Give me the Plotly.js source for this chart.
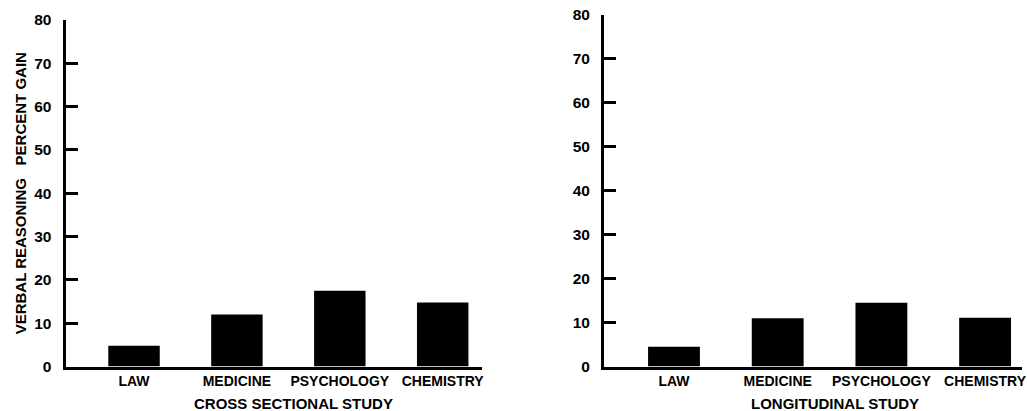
<!DOCTYPE html>
<html>
<head>
<meta charset="utf-8">
<script src="https://cdn.plot.ly/plotly-3.0.1.min.js"></script>
<style>html,body{margin:0;padding:0;background:#fff;}#chart{width:1027px;height:411px;}</style>
</head>
<body>
<div id="chart"></div>
<script>
const categories = ["LAW", "MEDICINE", "PSYCHOLOGY", "CHEMISTRY"];
const crossSectional = [4.8, 12, 17.5, 14.8];
const longitudinal = [4.5, 11, 14.5, 11.1];
const yTicks = [0, 10, 20, 30, 40, 50, 60, 70, 80];
const yTitle = "VERBAL REASONING&nbsp;&nbsp;&nbsp;PERCENT GAIN";
const leftTitle = "CROSS SECTIONAL STUDY";
const rightTitle = "LONGITUDINAL STUDY";

const FONT = "Liberation Sans, Arial, sans-serif";
const W = 1027, H = 411;

const traces = [
  {type: "bar", x: categories, y: crossSectional, xaxis: "x", yaxis: "y",
   width: 0.5, marker: {color: "#000", line: {width: 0}}, hoverinfo: "x+y"},
  {type: "bar", x: categories, y: longitudinal, xaxis: "x2", yaxis: "y2",
   width: 0.5, marker: {color: "#000", line: {width: 0}}, hoverinfo: "x+y"}
];

function xAx(domain, range) {
  return {
    domain: domain, range: range, type: "category",
    showline: true, linewidth: 3, linecolor: "#000",
    ticks: "", showgrid: false, zeroline: false,
    tickfont: {family: FONT, size: 14, color: "#000", weight: "bold"},
    fixedrange: true
  };
}
function yAx(domain, anchor) {
  return {
    domain: domain, range: [0, 80], anchor: anchor,
    tickvals: yTicks, ticktext: yTicks.map(String),
    showline: true, linewidth: 3, linecolor: "#000",
    ticks: "inside", ticklen: 12, tickwidth: 3, tickcolor: "#000",
    ticklabelstandoff: 8,
    showgrid: false, zeroline: false,
    tickfont: {family: FONT, size: 15.5, color: "#000", weight: "bold"},
    fixedrange: true
  };
}

const layout = {
  width: W, height: H,
  margin: {l: 0, r: 0, t: 0, b: 0, autoexpand: false},
  paper_bgcolor: "#fff", plot_bgcolor: "#fff",
  showlegend: false,
  bargap: 0.5,
  xaxis: Object.assign(xAx([65.5 / W, 482 / W], [-0.666, 3.382]), {anchor: "y"}),
  yaxis: Object.assign(yAx([1 - 366.5 / H, 1 - 20 / H], "x"), {
    title: {text: yTitle, standoff: 4, font: {family: FONT, size: 15, color: "#000", weight: "bold"}}
  }),
  xaxis2: Object.assign(xAx([604 / W, 1021.7 / W], [-0.675, 3.353]), {anchor: "y2"}),
  yaxis2: yAx([1 - 366.5 / H, 1 - 15 / H], "x2"),
  annotations: [
    {text: leftTitle, xref: "x", yref: "paper", x: 1.55, y: 1 - 403 / H,
     showarrow: false, xanchor: "center", yanchor: "middle",
     font: {family: FONT, size: 15, color: "#000", weight: "bold"}},
    {text: rightTitle, xref: "x2", yref: "paper", x: 1.55, y: 1 - 403 / H,
     showarrow: false, xanchor: "center", yanchor: "middle",
     font: {family: FONT, size: 15, color: "#000", weight: "bold"}}
  ]
};

Plotly.newPlot("chart", traces, layout, {displayModeBar: false, staticPlot: true});
</script>
</body>
</html>
